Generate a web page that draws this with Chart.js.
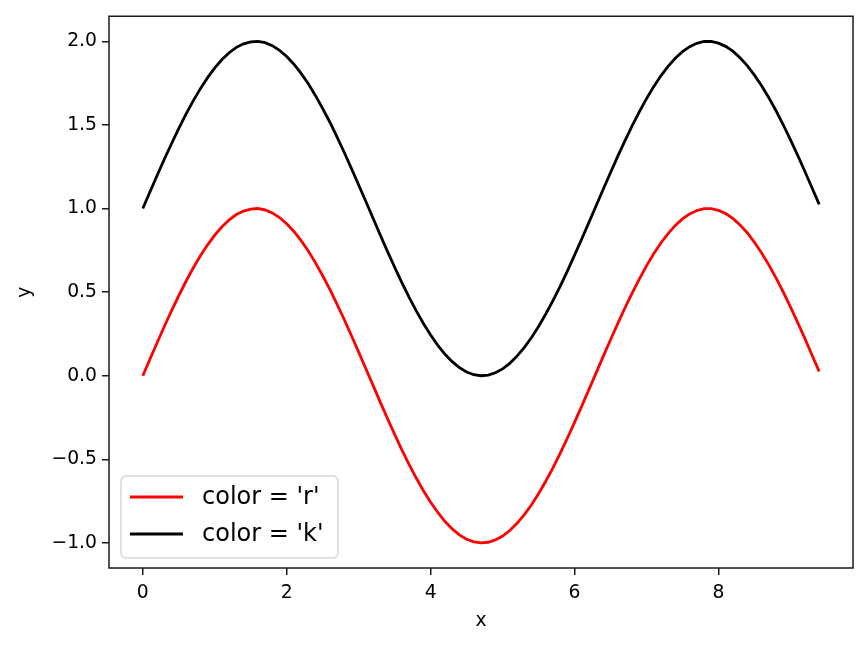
<!DOCTYPE html>
<html lang="en">
<head>
    <meta charset="UTF-8">
    <title>color = 'r' / color = 'k'</title>
    <style>
        html, body { margin: 0; padding: 0; background: #ffffff; }
        #wrap { width: 867px; height: 647px; }
    </style>
</head>
<body>
    <div id="wrap"><canvas id="sineChart" width="867" height="647"></canvas></div>

    <script src="https://cdn.jsdelivr.net/npm/chart.js"></script>
    <script>
        // x values (0 .. 9.4, every 0.1)
        const xValues = [
            0.0, 0.1, 0.2, 0.3, 0.4, 0.5, 0.6, 0.7, 0.8, 0.9,
            1.0, 1.1, 1.2, 1.3, 1.4, 1.5, 1.6, 1.7, 1.8, 1.9,
            2.0, 2.1, 2.2, 2.3, 2.4, 2.5, 2.6, 2.7, 2.8, 2.9,
            3.0, 3.1, 3.2, 3.3, 3.4, 3.5, 3.6, 3.7, 3.8, 3.9,
            4.0, 4.1, 4.2, 4.3, 4.4, 4.5, 4.6, 4.7, 4.8, 4.9,
            5.0, 5.1, 5.2, 5.3, 5.4, 5.5, 5.6, 5.7, 5.8, 5.9,
            6.0, 6.1, 6.2, 6.3, 6.4, 6.5, 6.6, 6.7, 6.8, 6.9,
            7.0, 7.1, 7.2, 7.3, 7.4, 7.5, 7.6, 7.7, 7.8, 7.9,
            8.0, 8.1, 8.2, 8.3, 8.4, 8.5, 8.6, 8.7, 8.8, 8.9,
            9.0, 9.1, 9.2, 9.3, 9.4
        ];

        // red curve
        const redValues = [
            0.000, 0.100, 0.199, 0.296, 0.389, 0.479, 0.565, 0.644, 0.717, 0.783,
            0.841, 0.891, 0.932, 0.964, 0.985, 0.997, 1.000, 0.992, 0.974, 0.946,
            0.909, 0.863, 0.808, 0.746, 0.675, 0.598, 0.516, 0.427, 0.335, 0.239,
            0.141, 0.042, -0.058, -0.158, -0.256, -0.351, -0.443, -0.530, -0.612, -0.688,
            -0.757, -0.818, -0.872, -0.916, -0.952, -0.978, -0.994, -1.000, -0.996, -0.982,
            -0.959, -0.926, -0.883, -0.832, -0.773, -0.706, -0.631, -0.551, -0.465, -0.374,
            -0.279, -0.182, -0.083, 0.017, 0.117, 0.215, 0.312, 0.405, 0.494, 0.578,
            0.657, 0.729, 0.794, 0.850, 0.899, 0.938, 0.968, 0.988, 0.999, 0.999,
            0.989, 0.970, 0.941, 0.902, 0.855, 0.798, 0.734, 0.663, 0.585, 0.501,
            0.412, 0.319, 0.223, 0.124, 0.025
        ];

        // black curve
        const blackValues = [
            1.000, 1.100, 1.199, 1.296, 1.389, 1.479, 1.565, 1.644, 1.717, 1.783,
            1.841, 1.891, 1.932, 1.964, 1.985, 1.997, 2.000, 1.992, 1.974, 1.946,
            1.909, 1.863, 1.808, 1.746, 1.675, 1.598, 1.516, 1.427, 1.335, 1.239,
            1.141, 1.042, 0.942, 0.842, 0.744, 0.649, 0.557, 0.470, 0.388, 0.312,
            0.243, 0.182, 0.128, 0.084, 0.048, 0.022, 0.006, 0.000, 0.004, 0.018,
            0.041, 0.074, 0.117, 0.168, 0.227, 0.294, 0.369, 0.449, 0.535, 0.626,
            0.721, 0.818, 0.917, 1.017, 1.117, 1.215, 1.312, 1.405, 1.494, 1.578,
            1.657, 1.729, 1.794, 1.850, 1.899, 1.938, 1.968, 1.988, 1.999, 1.999,
            1.989, 1.970, 1.941, 1.902, 1.855, 1.798, 1.734, 1.663, 1.585, 1.501,
            1.412, 1.319, 1.223, 1.124, 1.025
        ];

        const seriesLabels = ["color = 'r'", "color = 'k'"];
        const xTicks = [0, 2, 4, 6, 8];
        const yTicks = [-1.0, -0.5, 0.0, 0.5, 1.0, 1.5, 2.0];

        const FONT = 'DejaVu Sans';

        function toPoints(ys) {
            return xValues.map((x, i) => ({ x: x, y: ys[i] }));
        }

        // frame round the plot area + legend in the lower left corner
        const framePlugin = {
            id: 'framePlugin',
            afterDraw(chart) {
                const ctx = chart.ctx;
                const a = chart.chartArea;
                ctx.save();
                ctx.strokeStyle = '#1a1a1a';
                ctx.lineWidth = 1.5;
                ctx.strokeRect(a.left, a.top, a.right - a.left, a.bottom - a.top);

                const bx = a.left + 12, by = a.bottom - 92, bw = 217, bh = 82;
                ctx.globalAlpha = 0.8;
                ctx.fillStyle = '#ffffff';
                ctx.beginPath();
                ctx.roundRect(bx, by, bw, bh, 5);
                ctx.fill();
                ctx.globalAlpha = 1;
                ctx.strokeStyle = '#d6d6d6';
                ctx.lineWidth = 1.5;
                ctx.stroke();

                ctx.font = '24px "' + FONT + '"';
                ctx.textBaseline = 'middle';
                ctx.textAlign = 'left';
                chart.data.datasets.forEach((ds, i) => {
                    const y = by + 21 + i * 37;
                    ctx.strokeStyle = ds.borderColor;
                    ctx.lineWidth = 2.8;
                    ctx.beginPath();
                    ctx.moveTo(bx + 9, y);
                    ctx.lineTo(bx + 62, y);
                    ctx.stroke();
                    ctx.fillStyle = '#000000';
                    ctx.fillText(ds.label, bx + 81, y + 1);
                });
                ctx.restore();
            }
        };

        const config = {
            type: 'line',
            data: {
                datasets: [
                    {
                        label: seriesLabels[0],
                        data: toPoints(redValues),
                        borderColor: '#ff0000',
                        borderWidth: 2.8,
                        pointRadius: 0,
                        fill: false,
                        tension: 0
                    },
                    {
                        label: seriesLabels[1],
                        data: toPoints(blackValues),
                        borderColor: '#000000',
                        borderWidth: 2.8,
                        pointRadius: 0,
                        fill: false,
                        tension: 0
                    }
                ]
            },
            options: {
                responsive: false,
                animation: false,
                layout: { padding: { left: 0, right: 14, top: 15, bottom: 0 } },
                plugins: {
                    legend: { display: false },
                    tooltip: { enabled: false }
                },
                scales: {
                    x: {
                        type: 'linear',
                        min: -0.47,
                        max: 9.87,
                        afterBuildTicks: s => { s.ticks = xTicks.map(v => ({ value: v })); },
                        afterFit: s => { s.height = 79; },
                        grid: {
                            drawOnChartArea: false,
                            drawTicks: true,
                            tickLength: 7,
                            color: '#1a1a1a',
                            lineWidth: 1.5
                        },
                        border: { display: false },
                        ticks: {
                            color: '#000000',
                            padding: 7,
                            maxRotation: 0,
                            font: { family: FONT, size: 18.75 },
                            callback: v => String(v)
                        },
                        title: {
                            display: true,
                            text: 'x',
                            color: '#000000',
                            font: { family: FONT, size: 18.75 },
                            padding: { top: 0, bottom: 14.5 }
                        }
                    },
                    y: {
                        type: 'linear',
                        min: -1.15,
                        max: 2.15,
                        afterBuildTicks: s => { s.ticks = yTicks.map(v => ({ value: v })); },
                        afterFit: s => { s.width = 109; },
                        grid: {
                            drawOnChartArea: false,
                            drawTicks: true,
                            tickLength: 7,
                            color: '#1a1a1a',
                            lineWidth: 1.5
                        },
                        border: { display: false },
                        ticks: {
                            color: '#000000',
                            padding: 5,
                            font: { family: FONT, size: 18.75 },
                            callback: v => v.toFixed(1).replace('-', '\u2212')
                        },
                        title: {
                            display: true,
                            text: 'y',
                            color: '#000000',
                            font: { family: FONT, size: 18.75 },
                            padding: { top: 13.5, bottom: 0 }
                        }
                    }
                }
            },
            plugins: [framePlugin]
        };

        const sineChart = new Chart(document.getElementById('sineChart'), config);
    </script>
</body>
</html>
